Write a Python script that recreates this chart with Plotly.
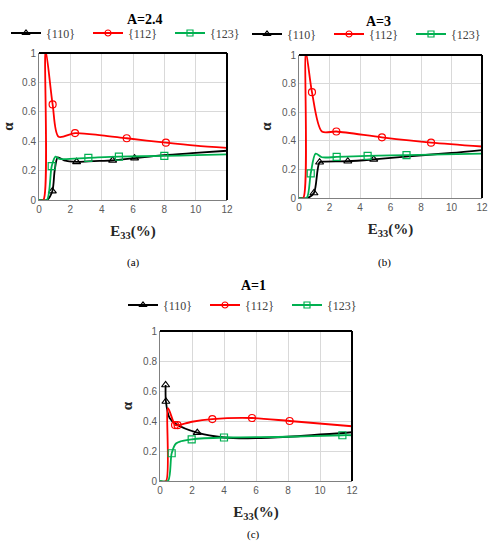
import plotly.graph_objects as go

# Panel (a), A=2.4
a_110_x = [0, 0.5, 0.85, 1.0, 1.2, 1.6, 2.4, 3.5, 4.7, 6.1, 8, 10, 12]
a_110_y = [0, 0, 0.06, 0.2, 0.29, 0.27, 0.26, 0.265, 0.27, 0.285, 0.305, 0.32, 0.335]
a_110_mx = [0.85, 2.4, 4.7, 6.1]
a_110_my = [0.06, 0.26, 0.27, 0.285]

a_112_x = [0, 0.28, 0.42, 0.87, 1.25, 2.3, 4, 5.6, 8.1, 10, 12]
a_112_y = [0, 0, 1.02, 0.65, 0.43, 0.455, 0.44, 0.42, 0.39, 0.37, 0.355]
a_112_mx = [0.87, 2.3, 5.6, 8.1]
a_112_my = [0.65, 0.455, 0.42, 0.39]

a_123_x = [0, 0.5, 0.81, 1.05, 1.3, 3.15, 5.1, 8, 10, 12]
a_123_y = [0, 0, 0.23, 0.295, 0.28, 0.287, 0.295, 0.30, 0.305, 0.31]
a_123_mx = [0.81, 3.15, 5.1, 8]
a_123_my = [0.23, 0.287, 0.295, 0.30]

# Panel (b), A=3
b_110_x = [0, 0.55, 0.98, 1.35, 1.7, 3.2, 4.9, 7, 10, 12]
b_110_y = [0, 0, 0.035, 0.25, 0.255, 0.257, 0.27, 0.29, 0.315, 0.335]
b_110_mx = [0.98, 1.35, 3.2, 4.9]
b_110_my = [0.035, 0.25, 0.257, 0.27]

b_112_x = [0, 0.28, 0.45, 0.85, 1.5, 2.45, 5.44, 8.66, 12]
b_112_y = [0, 0, 1.02, 0.74, 0.465, 0.465, 0.424, 0.387, 0.36]
b_112_mx = [0.85, 2.45, 5.44, 8.66]
b_112_my = [0.74, 0.465, 0.424, 0.387]

b_123_x = [0, 0.5, 0.77, 1.09, 1.5, 2.47, 4.5, 7.05, 12]
b_123_y = [0, 0, 0.172, 0.31, 0.285, 0.287, 0.295, 0.30, 0.31]
b_123_mx = [0.77, 2.47, 4.5, 7.05]
b_123_my = [0.172, 0.287, 0.295, 0.30]

# Panel (c), A=1
c_110_x = [0.35, 0.37, 0.6, 1.0, 2.33, 4.0, 5.5, 8, 12]
c_110_y = [0.64, 0.53, 0.42, 0.38, 0.322, 0.29, 0.285, 0.295, 0.325]
c_110_mx = [0.35, 0.37, 2.33]
c_110_my = [0.64, 0.53, 0.322]

c_112_x = [0, 0.38, 0.5, 0.94, 1.1, 2, 3.27, 5.75, 8.1, 12]
c_112_y = [0, 0, 0.485, 0.373, 0.372, 0.395, 0.413, 0.42, 0.40, 0.365]
c_112_mx = [0.94, 1.1, 3.27, 5.75, 8.1]
c_112_my = [0.373, 0.372, 0.413, 0.42, 0.40]

c_123_x = [0, 0.5, 0.73, 1.0, 1.3, 1.98, 4, 8, 11.4, 12]
c_123_y = [0, 0, 0.185, 0.25, 0.265, 0.278, 0.29, 0.295, 0.305, 0.305]
c_123_mx = [0.73, 1.98, 4, 11.4]
c_123_my = [0.185, 0.278, 0.29, 0.305]

series_names = ["{110}", "{112}", "{123}"]
series_colors = ["#000000", "#FF0000", "#00B050"]
series_symbols = ["triangle-up-open", "circle-open", "square-open"]

panels = [
    dict(title="A=2.4", caption="(a)", xa="x", ya="y", legend="legend",
         data=[(a_110_x, a_110_y, a_110_mx, a_110_my),
               (a_112_x, a_112_y, a_112_mx, a_112_my),
               (a_123_x, a_123_y, a_123_mx, a_123_my)]),
    dict(title="A=3", caption="(b)", xa="x2", ya="y2", legend="legend2",
         data=[(b_110_x, b_110_y, b_110_mx, b_110_my),
               (b_112_x, b_112_y, b_112_mx, b_112_my),
               (b_123_x, b_123_y, b_123_mx, b_123_my)]),
    dict(title="A=1", caption="(c)", xa="x3", ya="y3", legend="legend3",
         data=[(c_110_x, c_110_y, c_110_mx, c_110_my),
               (c_112_x, c_112_y, c_112_mx, c_112_my),
               (c_123_x, c_123_y, c_123_mx, c_123_my)]),
]

fig = go.Figure()

for p in panels:
    for (x, y, mx, my), name, col, sym in zip(p["data"], series_names, series_colors, series_symbols):
        fig.add_trace(go.Scatter(x=x, y=y, mode="lines", xaxis=p["xa"], yaxis=p["ya"],
                                 line=dict(color=col, width=1.8, shape="spline", smoothing=0.8),
                                 showlegend=False, hoverinfo="skip"))
        fig.add_trace(go.Scatter(x=mx, y=my, mode="markers", xaxis=p["xa"], yaxis=p["ya"],
                                 marker=dict(symbol=sym, color=col, size=7, line=dict(width=1.2)),
                                 showlegend=False))
        # entrada só para a legenda
        fig.add_trace(go.Scatter(x=[None], y=[None], mode="lines+markers", name=name,
                                 xaxis=p["xa"], yaxis=p["ya"], legend=p["legend"],
                                 line=dict(color=col, width=1.8),
                                 marker=dict(symbol=sym, color=col, size=6, line=dict(width=1.2))))

# posições dos eixos (em fração da figura)
domains = {
    "": ([39 / 490, 227 / 490], [1 - 200 / 550, 1 - 53 / 550]),
    "2": ([299 / 490, 482 / 490], [1 - 198 / 550, 1 - 55 / 550]),
    "3": ([160 / 490, 352 / 490], [1 - 481 / 550, 1 - 331 / 550]),
}

tick_font = dict(family="Liberation Sans", size=10, color="#595959")
title_font = dict(family="Liberation Serif", size=15, color="#262626")

layout = dict(
    width=490, height=550,
    margin=dict(l=0, r=0, t=0, b=0, autoexpand=False),
    paper_bgcolor="white", plot_bgcolor="white",
    showlegend=True,
)

for k, (xd, yd) in domains.items():
    layout["xaxis" + k] = dict(
        domain=xd, range=[0, 12], dtick=2, tick0=0,
        anchor="y" + k,
        showgrid=True, gridcolor="#D9D9D9", gridwidth=1,
        zeroline=False, showline=True, linecolor="#808080", linewidth=1,
        ticks="", tickfont=tick_font,
        title=dict(text="<b>E<sub>33</sub>(%)</b>", font=title_font, standoff=11),
    )
    layout["yaxis" + k] = dict(
        domain=yd, range=[0, 1], dtick=0.2, tick0=0,
        anchor="x" + k,
        showgrid=True, gridcolor="#D9D9D9", gridwidth=1,
        zeroline=False, showline=True, linecolor="#808080", linewidth=1,
        ticks="", tickfont=tick_font,
        title=dict(text="<b>α</b>", font=title_font, standoff=6),
    )

legend_style = dict(orientation="h", font=dict(family="Liberation Serif", size=12, color="#404040"),
                    itemwidth=30, entrywidth=37, entrywidthmode="pixels",
                    bgcolor="rgba(0,0,0,0)", xanchor="left", yanchor="middle",
                    tracegroupgap=0, itemclick=False)
layout["legend"] = dict(legend_style, x=6 / 490, y=1 - 33 / 550)
layout["legend2"] = dict(legend_style, x=247 / 490, y=1 - 34 / 550)
layout["legend3"] = dict(legend_style, x=123 / 490, y=1 - 305 / 550)

fig.update_layout(**layout)

# títulos e legendas das figuras
for p, cx, ty, cy in [(panels[0], 125, 10, 262), (panels[1], 393, 12, 262), (panels[2], 253, 285, 543)]:
    fig.add_annotation(text="<b>" + p["title"] + "</b>", x=cx / 490, y=1 - ty / 550,
                       xref="paper", yref="paper", showarrow=False,
                       font=dict(family="Liberation Serif", size=14, color="#000000"))
    fig.add_annotation(text=p["caption"], x=cx / 490, y=1 - cy / 550,
                       xref="paper", yref="paper", showarrow=False,
                       font=dict(family="Liberation Serif", size=11, color="#000000"))

# bordas pretas em cima e à direita
for k in ["", "2", "3"]:
    xr = "x" + k + " domain"
    yr = "y" + k + " domain"
    fig.add_shape(type="line", xref=xr, yref=yr, x0=0, x1=1, y0=1, y1=1,
                  line=dict(color="black", width=2), layer="above")
    fig.add_shape(type="line", xref=xr, yref=yr, x0=1, x1=1, y0=0, y1=1,
                  line=dict(color="black", width=2), layer="above")

# tira a margem padrão da página para a figura ocupar a janela toda
fig.write_html("out.html", config={"displayModeBar": False},
               post_script="document.body.style.margin='0';document.body.style.overflow='hidden';")
